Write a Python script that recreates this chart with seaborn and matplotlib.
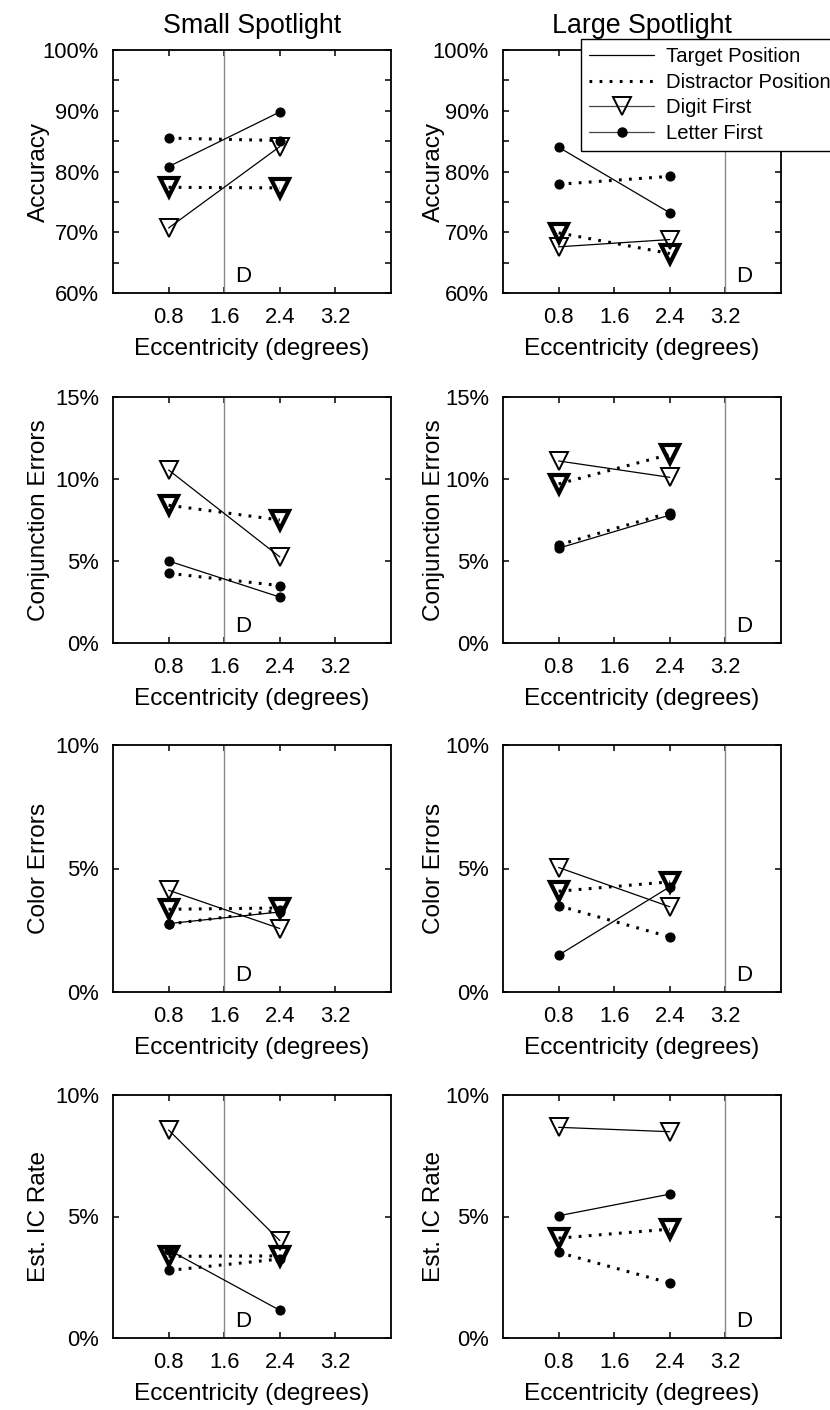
import matplotlib
matplotlib.use("Agg")
import matplotlib.pyplot as plt
import seaborn as sns
from matplotlib.lines import Line2D

sns.set_style("ticks")
plt.rcParams['font.family'] = ['Liberation Sans', 'DejaVu Sans']
plt.rcParams.update({"text.color": "black", "axes.labelcolor": "black",
                     "xtick.color": "black", "ytick.color": "black",
                     "axes.edgecolor": "black"})

# ---------------- data ----------------
eccentricity = [0.8, 2.4]
x_ticks = [0.8, 1.6, 2.4, 3.2]
x_tick_labels = ["0.8", "1.6", "2.4", "3.2"]
column_titles = ["Small Spotlight", "Large Spotlight"]
measures = ["Accuracy", "Conjunction Errors", "Color Errors", "Est. IC Rate"]
legend_labels = ["Target Position", "Distractor Position", "Digit First", "Letter First"]
d_marker_x = [1.6, 3.2]

# Small spotlight (percent)
small_acc_digit_target = [70.7, 84.1]
small_acc_digit_distr = [77.4, 77.3]
small_acc_letter_target = [80.8, 89.8]
small_acc_letter_distr = [85.5, 85.1]

small_conj_digit_target = [10.55, 5.25]
small_conj_digit_distr = [8.4, 7.5]
small_conj_letter_target = [5.0, 2.8]
small_conj_letter_distr = [4.25, 3.5]

small_color_digit_target = [4.12, 2.57]
small_color_digit_distr = [3.35, 3.4]
small_color_letter_target = [2.77, 3.24]
small_color_letter_distr = [2.75, 3.3]

small_ic_digit_target = [8.56, 4.01]
small_ic_digit_distr = [3.36, 3.38]
small_ic_letter_target = [3.63, 1.14]
small_ic_letter_distr = [2.78, 3.25]

# Large spotlight (percent)
large_acc_digit_target = [67.6, 68.8]
large_acc_digit_distr = [69.9, 66.5]
large_acc_letter_target = [84.0, 73.2]
large_acc_letter_distr = [77.9, 79.2]

large_conj_digit_target = [11.1, 10.1]
large_conj_digit_distr = [9.7, 11.5]
large_conj_letter_target = [5.78, 7.8]
large_conj_letter_distr = [5.98, 7.95]

large_color_digit_target = [5.04, 3.45]
large_color_digit_distr = [4.08, 4.46]
large_color_letter_target = [1.49, 4.26]
large_color_letter_distr = [3.49, 2.23]

large_ic_digit_target = [8.67, 8.49]
large_ic_digit_distr = [4.11, 4.48]
large_ic_letter_target = [5.03, 5.92]
large_ic_letter_distr = [3.52, 2.26]

y_limits = [(60, 100), (0, 15), (0, 10), (0, 10)]
y_tick_values = [list(range(60, 101, 5)), [0, 5, 10, 15], [0, 5, 10], [0, 5, 10]]
y_labeled = [list(range(60, 101, 10)), [0, 5, 10, 15], [0, 5, 10], [0, 5, 10]]

panels = {
    (0, 0): (small_acc_letter_target, small_acc_letter_distr, small_acc_digit_target, small_acc_digit_distr),
    (1, 0): (small_conj_letter_target, small_conj_letter_distr, small_conj_digit_target, small_conj_digit_distr),
    (2, 0): (small_color_letter_target, small_color_letter_distr, small_color_digit_target, small_color_digit_distr),
    (3, 0): (small_ic_letter_target, small_ic_letter_distr, small_ic_digit_target, small_ic_digit_distr),
    (0, 1): (large_acc_letter_target, large_acc_letter_distr, large_acc_digit_target, large_acc_digit_distr),
    (1, 1): (large_conj_letter_target, large_conj_letter_distr, large_conj_digit_target, large_conj_digit_distr),
    (2, 1): (large_color_letter_target, large_color_letter_distr, large_color_digit_target, large_color_digit_distr),
    (3, 1): (large_ic_letter_target, large_ic_letter_distr, large_ic_digit_target, large_ic_digit_distr),
}

# ---------------- layout ----------------
W, H = 830, 1410
fig = plt.figure(figsize=(W / 100, H / 100), dpi=100)
col_left_px = [113, 503]
col_width_px = 278
row_px = [(50, 293), (397, 643), (745, 992), (1095, 1338)]

DOT = (0, (0.9, 2.4))
TICK_FS = 15.8
LABEL_FS = 17.6
TRI_MS = 13

for r in range(4):
    for c in range(2):
        top, bot = row_px[r]
        ax = fig.add_axes([col_left_px[c] / W, 1 - bot / H, col_width_px / W, (bot - top) / H])
        lt, ld, dt, dd = panels[(r, c)]
        ax.axvline(d_marker_x[c], color="#8a8a8a", lw=1.0, zorder=1)
        # letter first
        sns.lineplot(x=eccentricity, y=lt, ax=ax, color="black", lw=0.9, marker="o", ms=6.5,
                     markerfacecolor="black", markeredgecolor="black", markeredgewidth=0.8, zorder=3)
        sns.lineplot(x=eccentricity, y=ld, ax=ax, color="black", lw=2.2, linestyle=DOT, marker="o", ms=6.5,
                     markerfacecolor="black", markeredgecolor="black", markeredgewidth=0.8, zorder=3)
        # digit first
        sns.lineplot(x=eccentricity, y=dt, ax=ax, color="black", lw=0.9, marker="v", ms=TRI_MS,
                     markerfacecolor="none", markeredgecolor="black", markeredgewidth=1.4, zorder=4)
        sns.lineplot(x=eccentricity, y=dd, ax=ax, color="black", lw=2.2, linestyle=DOT, marker="v", ms=TRI_MS,
                     markerfacecolor="none", markeredgecolor="black", markeredgewidth=3.0, zorder=4)

        ax.set_xlim(0, 4)
        ax.set_ylim(*y_limits[r])
        ax.set_xticks(x_ticks)
        ax.set_xticklabels(x_tick_labels, fontsize=TICK_FS)
        ax.set_yticks(y_tick_values[r])
        ax.set_yticklabels([f"{v}%" if v in y_labeled[r] else "" for v in y_tick_values[r]], fontsize=TICK_FS)
        ax.tick_params(direction="in", length=4, width=1.1, top=True, right=True, colors="black")
        ax.tick_params(axis="x", pad=10)
        ax.tick_params(axis="y", pad=10)
        for s in ax.spines.values():
            s.set_visible(True)
            s.set_linewidth(1.3)
            s.set_color("black")
        ax.set_xlabel("Eccentricity (degrees)", fontsize=LABEL_FS, labelpad=7, color="black")
        ax.set_ylabel(measures[r], fontsize=LABEL_FS, color="black")
        ax.yaxis.set_label_coords(-0.225 if c == 0 else -0.21, 0.5)
        ax.text(d_marker_x[c] + 0.15, 0.025, "D", transform=ax.get_xaxis_transform(),
                ha="left", va="bottom", fontsize=16, color="black")
        if r == 0:
            ax.set_title(column_titles[c], fontsize=19.3, pad=12, color="black")
        ax.set_facecolor("white")

handles = [
    Line2D([], [], color="black", lw=0.9),
    Line2D([], [], color="black", lw=2.2, linestyle=DOT),
    Line2D([], [], color="#444444", lw=0.9, marker="v", ms=TRI_MS, markerfacecolor="none",
           markeredgecolor="black", markeredgewidth=1.4),
    Line2D([], [], color="#444444", lw=0.9, marker="o", ms=6.5, markerfacecolor="black",
           markeredgecolor="black"),
]
leg = fig.legend(handles, legend_labels, loc="upper left", bbox_to_anchor=(581 / W, 1 - 39 / H),
                 fontsize=14.6, frameon=True, fancybox=False, framealpha=1, edgecolor="black",
                 handlelength=3.2, handletextpad=0.6, labelspacing=0.33, borderpad=0.4,
                 borderaxespad=0)
leg.get_frame().set_linewidth(1.0)
leg.set_zorder(10)
for t in leg.get_texts():
    t.set_color("black")

fig.savefig("out.png", dpi=100, facecolor="white")
